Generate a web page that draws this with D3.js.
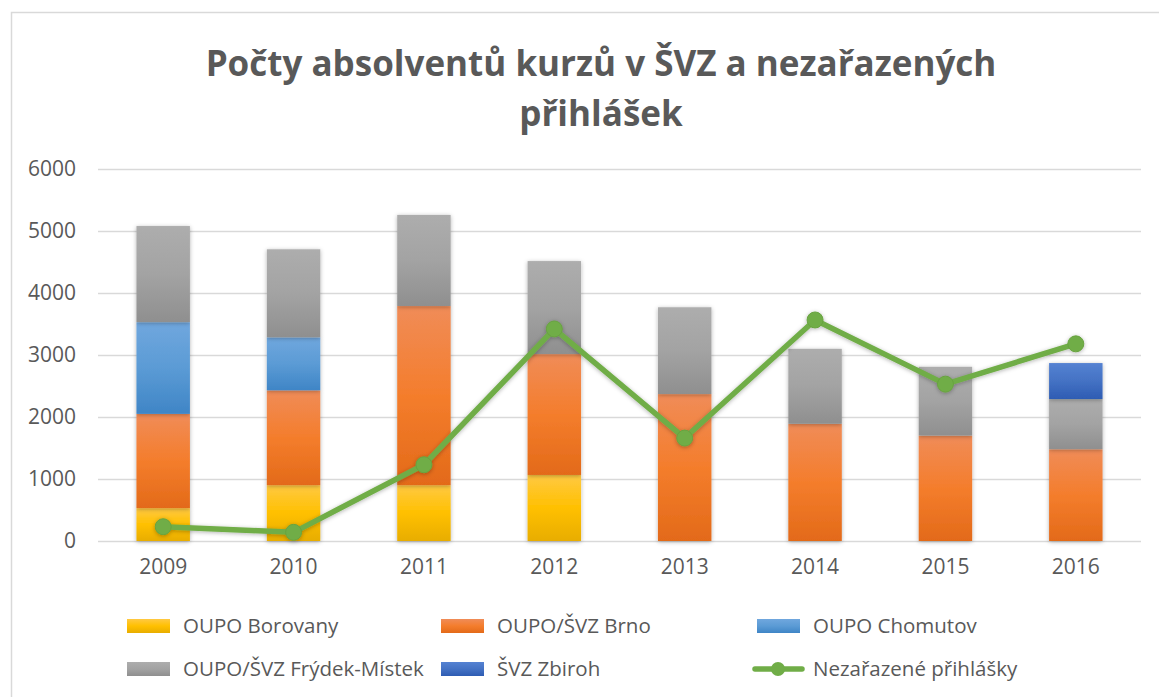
<!DOCTYPE html>
<html>
<head>
<meta charset="utf-8">
<script src="https://cdn.jsdelivr.net/npm/d3@7"></script>
<style>
  body { margin: 0; background: #fff; }
  text { font-family: "Open Sans", "DejaVu Sans", sans-serif; fill: #595959; }
</style>
</head>
<body>
<script>
// data
const years = ["2009", "2010", "2011", "2012", "2013", "2014", "2015", "2016"];
const borovany = [530, 900, 900, 1065, 0, 0, 0, 0];
const brno = [1520, 1530, 2890, 1950, 2370, 1890, 1700, 1480];
const chomutov = [1480, 855, 0, 0, 0, 0, 0, 0];
const frydek = [1550, 1420, 1470, 1500, 1400, 1210, 1110, 810];
const zbiroh = [0, 0, 0, 0, 0, 0, 0, 580];
const nezarazene = [230, 140, 1230, 3420, 1660, 3565, 2530, 3180];
const yTicks = [0, 1000, 2000, 3000, 4000, 5000, 6000];

const seriesNames = ["OUPO Borovany", "OUPO/ŠVZ Brno", "OUPO Chomutov", "OUPO/ŠVZ Frýdek-Místek", "ŠVZ Zbiroh"];
const lineName = "Nezařazené přihlášky";

// gradient stops per series: top, middle, bottom
const colors = [
  ["#ffc943", "#ffc000", "#e8ad00"],
  ["#f08c58", "#f47d2c", "#e36a19"],
  ["#70a7de", "#5b9bd5", "#3f85c6"],
  ["#adadad", "#a3a3a3", "#8f8f8f"],
  ["#5582d2", "#4472c4", "#2e5cb3"]
];

const width = 1159, height = 697;
const margin = { left: 98, right: 18, top: 169, bottom: 156 };

const svg = d3.select("body").append("svg")
  .attr("width", width)
  .attr("height", height);

const defs = svg.append("defs");
colors.forEach((c, i) => {
  const g = defs.append("linearGradient")
    .attr("id", "grad" + i)
    .attr("x1", 0).attr("y1", 0).attr("x2", 0).attr("y2", 1);
  g.append("stop").attr("offset", "0%").attr("stop-color", c[0]);
  g.append("stop").attr("offset", "50%").attr("stop-color", c[1]);
  g.append("stop").attr("offset", "100%").attr("stop-color", c[2]);
});
const shadow = defs.append("filter").attr("id", "shadow")
  .attr("x", "-30%").attr("y", "-30%").attr("width", "160%").attr("height", "160%");
shadow.append("feDropShadow")
  .attr("dx", 0).attr("dy", 1).attr("stdDeviation", 2)
  .attr("flood-color", "#000").attr("flood-opacity", 0.3);

// chart border
svg.append("rect")
  .attr("x", 11.5).attr("y", 12.5)
  .attr("width", 1160).attr("height", 700)
  .attr("fill", "none")
  .attr("stroke", "#d9d9d9")
  .attr("stroke-width", 1.5);

// title
const title = svg.append("text")
  .attr("text-anchor", "middle")
  .style("font-weight", "bold")
  .style("font-size", "35px");
title.append("tspan").attr("x", 601).attr("y", 76).text("Počty absolventů kurzů v ŠVZ a nezařazených");
title.append("tspan").attr("x", 601).attr("y", 126).text("přihlášek");

const x = d3.scaleBand()
  .domain(years)
  .range([margin.left, width - margin.right])
  .paddingInner(0.59)
  .paddingOuter(0.295);

const y = d3.scaleLinear()
  .domain([0, 6000])
  .range([height - margin.bottom, margin.top]);

// gridlines
svg.append("g")
  .selectAll("line")
  .data(yTicks)
  .enter().append("line")
  .attr("x1", margin.left)
  .attr("x2", width - margin.right)
  .attr("y1", d => Math.round(y(d)) + 0.5)
  .attr("y2", d => Math.round(y(d)) + 0.5)
  .attr("stroke", "#d9d9d9")
  .attr("stroke-width", 1.5);

// y axis labels
const yAxis = svg.append("g")
  .attr("transform", `translate(${margin.left},0)`)
  .call(d3.axisLeft(y).tickValues(yTicks).tickFormat(d3.format("d")).tickSize(0).tickPadding(22));
yAxis.select(".domain").remove();
yAxis.selectAll("text")
  .style("font-size", "21px")
  .style("font-family", "'Open Sans', sans-serif")
  .attr("fill", "#595959");

// x axis labels
const xAxis = svg.append("g")
  .attr("transform", `translate(0,${height - margin.bottom})`)
  .call(d3.axisBottom(x).tickSize(0).tickPadding(18));
xAxis.select(".domain").remove();
xAxis.selectAll("text")
  .style("font-size", "21px")
  .style("font-family", "'Open Sans', sans-serif")
  .attr("fill", "#595959");

// stacked bars
const table = years.map((yr, i) => ({
  year: yr,
  s0: borovany[i], s1: brno[i], s2: chomutov[i], s3: frydek[i], s4: zbiroh[i]
}));
const stack = d3.stack().keys(["s0", "s1", "s2", "s3", "s4"]);
const layers = stack(table);

svg.append("g")
  .selectAll("g")
  .data(layers)
  .enter().append("g")
  .attr("fill", (d, i) => `url(#grad${i})`)
  .selectAll("rect")
  .data(d => d.filter(p => p[1] - p[0] > 0))
  .enter().append("rect")
  .attr("x", d => x(d.data.year))
  .attr("width", x.bandwidth())
  .attr("y", d => y(d[1]))
  .attr("height", d => y(d[0]) - y(d[1]))
  .attr("filter", "url(#shadow)");

// line series
const lineData = years.map((yr, i) => ({ year: yr, v: nezarazene[i] }));
const line = d3.line()
  .x(d => x(d.year) + x.bandwidth() / 2)
  .y(d => y(d.v));

const lineG = svg.append("g").attr("filter", "url(#shadow)");
lineG.append("path")
  .datum(lineData)
  .attr("d", line)
  .attr("fill", "none")
  .attr("stroke", "#70ad47")
  .attr("stroke-width", 5.5)
  .attr("stroke-linejoin", "round");
lineG.selectAll("circle")
  .data(lineData)
  .enter().append("circle")
  .attr("cx", d => x(d.year) + x.bandwidth() / 2)
  .attr("cy", d => y(d.v))
  .attr("r", 8)
  .attr("fill", "#70ad47")
  .attr("stroke", "#68a340")
  .attr("stroke-width", 1);

// legend
const legendItems = [
  { name: seriesNames[0], i: 0, x: 127, y: 626 },
  { name: seriesNames[1], i: 1, x: 441, y: 626 },
  { name: seriesNames[2], i: 2, x: 757, y: 626 },
  { name: seriesNames[3], i: 3, x: 127, y: 669 },
  { name: seriesNames[4], i: 4, x: 441, y: 669 },
  { name: lineName, i: -1, x: 757, y: 669 }
];
const legend = svg.append("g");
legendItems.forEach(item => {
  const g = legend.append("g").attr("transform", `translate(${item.x},${item.y})`);
  if (item.i >= 0) {
    g.append("rect")
      .attr("x", 0).attr("y", -7)
      .attr("width", 43).attr("height", 14)
      .attr("fill", `url(#grad${item.i})`);
  } else {
    g.append("line")
      .attr("x1", -2).attr("x2", 45)
      .attr("y1", 0).attr("y2", 0)
      .attr("stroke", "#70ad47")
      .attr("stroke-width", 5.5)
      .attr("stroke-linecap", "round");
    g.append("circle")
      .attr("cx", 21).attr("cy", 0).attr("r", 7)
      .attr("fill", "#70ad47");
  }
  g.append("text")
    .attr("x", 56)
    .attr("y", 7)
    .style("font-size", "20.5px")
    .text(item.name);
});
</script>
</body>
</html>
